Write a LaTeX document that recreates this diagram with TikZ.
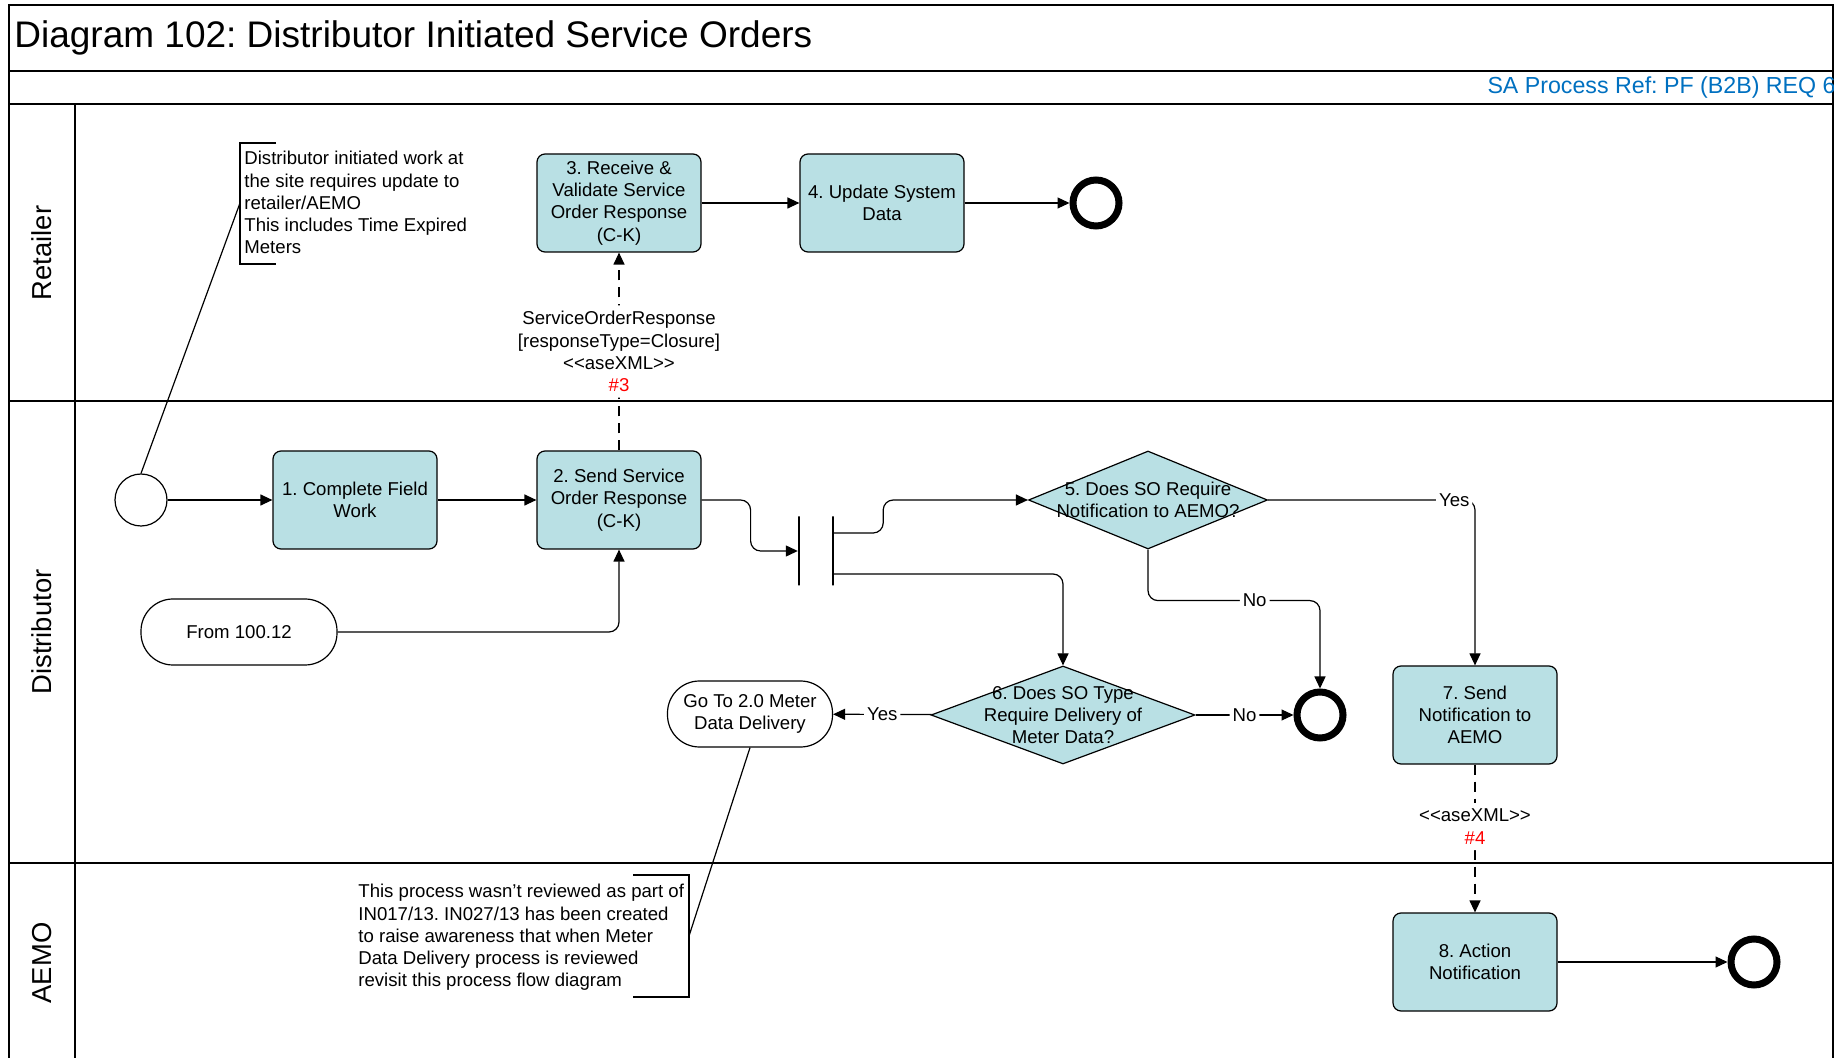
\documentclass[tikz,border=0pt]{standalone}
\usepackage{fontspec}
\setmainfont{Liberation Sans}[Ligatures=TeXOff]
\usetikzlibrary{arrows.meta,shapes.geometric}
\definecolor{taskfill}{HTML}{B9E0E4}
\definecolor{refblue}{HTML}{0070C0}
\newcommand{\bodyfont}{\fontsize{9.3}{11.1}\selectfont}
\frenchspacing
\tikzset{task/.style={draw=black,fill=taskfill,rounded corners=4pt,minimum width=82pt,minimum height=49pt,align=center,font=\bodyfont,inner sep=2pt,line width=0.6pt}, decision/.style={diamond,draw=black,fill=taskfill,inner sep=0pt,minimum height=49pt,line width=0.6pt}, dtext/.style={font=\bodyfont,align=center,inner sep=0pt}, linkbox/.style={draw=black,rounded corners=16pt,minimum height=33pt,align=center,font=\bodyfont,line width=0.6pt}, startev/.style={circle,draw=black,minimum size=26pt,inner sep=0pt,line width=0.6pt}, endev/.style={circle,draw=black,minimum size=23pt,inner sep=0pt,line width=3.5pt}, forkbar/.style={draw=black,line width=1.2pt,minimum width=0pt,minimum height=34.5pt,inner sep=0pt}, flow/.style={-{Triangle[length=6pt,width=5.5pt]},line width=0.6pt,rounded corners=5pt}, msg/.style={flow,dash pattern=on 5pt off 3.5pt}, lbl/.style={fill=white,font=\bodyfont,align=center,inner xsep=1.5pt,inner ysep=3pt}, note/.style={align=left,font=\bodyfont,inner sep=0pt,anchor=north west}, lanelbl/.style={rotate=90,font=\fontsize{13.7}{16}\selectfont,inner sep=0pt}, frame/.style={line width=1pt}}

\begin{document}
\begin{tikzpicture}[x=0.5pt,y=-0.5pt]
\useasboundingbox (0,0) rectangle (1837,1058);
% pool and lanes
\draw[frame] (9,1058) -- (9,5) -- (1833,5) -- (1833,1058);
\draw[frame] (9,71) -- (1833,71);
\draw[frame] (9,104) -- (1833,104);
\draw[frame] (9,401) -- (1833,401);
\draw[frame] (9,863) -- (1833,863);
\draw[frame] (75,104) -- (75,1058);
\node[anchor=west,font=\fontsize{18.5}{22}\selectfont,inner sep=0pt] (title) at (14,38) {Diagram 102: Distributor Initiated Service Orders};
\begin{scope}
\clip (9,71) rectangle (1833,104);
\node[anchor=east,text=refblue,font=\fontsize{11.6}{14}\selectfont,inner sep=0pt] (pfref) at (1836,88) {SA Process Ref: PF (B2B) REQ 6};
\end{scope}
\node[lanelbl] (retailer) at (42,253) {Retailer};
\node[lanelbl] (distributor) at (42,632) {Distributor};
\node[lanelbl] (aemo) at (42,963) {AEMO};

% activities
\node[startev] (start) at (141,500) {};
\node[task] (t1) at (355,500) {1. Complete Field\\Work};
\node[task] (t2) at (619,500) {2. Send Service\\Order Response\\(C-K)};
\node[task] (t3) at (619,203) {3. Receive \&\\Validate Service\\Order Response\\(C-K)};
\node[task] (t4) at (882,203) {4. Update System\\Data};
\node[endev] (endR) at (1096,203) {};
\node[linkbox,minimum width=98pt] (from) at (239,632) {From 100.12};
\node[forkbar] (barL) at (799,551) {};
\node[forkbar] (barR) at (833,551) {};
\node[decision,minimum width=119.5pt,label={[dtext]center:{5. Does SO Require\\Notification to AEMO?}}] (d5) at (1148,500) {};
\node[decision,minimum width=132pt,label={[dtext]center:{6. Does SO Type\\Require Delivery of\\Meter Data?}}] (d6) at (1063,715) {};
\node[endev] (endD) at (1320,715) {};
\node[linkbox,minimum width=82.5pt] (goto) at (750,714) {Go To 2.0 Meter\\Data Delivery};
\node[task] (t7) at (1475,715) {7. Send\\Notification to\\AEMO};
\node[task] (t8) at (1475,962) {8. Action\\Notification};
\node[endev] (endA) at (1754,962) {};

% annotations
\node[note] (note1) at (244,151) {Distributor initiated work at\\the site requires update to\\retailer/AEMO\\This includes Time Expired\\Meters};
\coordinate (n1a) at (276,143);
\coordinate (n1b) at (240,143);
\coordinate (n1c) at (240,264);
\coordinate (n1d) at (276,264);
\coordinate (n1m) at (240,203);
\draw[line width=0.6pt] (n1a) -- (n1b) -- (n1c) -- (n1d);
\draw[line width=0.6pt] (start.north) -- (n1m);
\node[note] (note2) at (358,884) {This process wasn’t reviewed as part of\\IN017/13. IN027/13 has been created\\to raise awareness that when Meter\\Data Delivery process is reviewed\\revisit this process flow diagram};
\coordinate (n2a) at (633,875);
\coordinate (n2b) at (689,875);
\coordinate (n2c) at (689,997);
\coordinate (n2d) at (633,997);
\coordinate (n2m) at (689,936);
\draw[line width=0.6pt] (n2a) -- (n2b) -- (n2c) -- (n2d);
\draw[line width=0.6pt] (goto.south) -- (n2m);

% flows
\draw[flow] (start) -- (t1);
\draw[flow] (t1) -- (t2);
\draw[flow] (t3) -- (t4);
\draw[flow] (t4) -- (endR);
\draw[msg] (t2) -- node[lbl]{ServiceOrderResponse\\{[}responseType=Closure{]}\\<<aseXML>>\\\textcolor{red}{\#3}} (t3);
\draw[flow] (from) -| (t2);
\draw[flow] (t2.east) -- ++(49,0) |- (barL);
\draw[flow] ([yshift=9pt]barR.east) -- ++(49,0) |- (d5);
\draw[flow] ([yshift=-11.5pt]barR.east) -| (d6);
\draw[flow] (d5.east) -| node[lbl,pos=0.45]{Yes} (t7.north);
\draw[flow] (d5.south) -- ++(0,51) -| node[lbl,pos=0.31]{No} (endD.north);
\draw[flow] (d6) -- node[lbl]{No} (endD);
\draw[flow] (d6) -- node[lbl]{Yes} (goto);
\draw[msg] (t7) -- node[lbl,pos=0.42]{<<aseXML>>\\\textcolor{red}{\#4}} (t8);
\draw[flow] (t8) -- (endA);
\end{tikzpicture}
\end{document}
